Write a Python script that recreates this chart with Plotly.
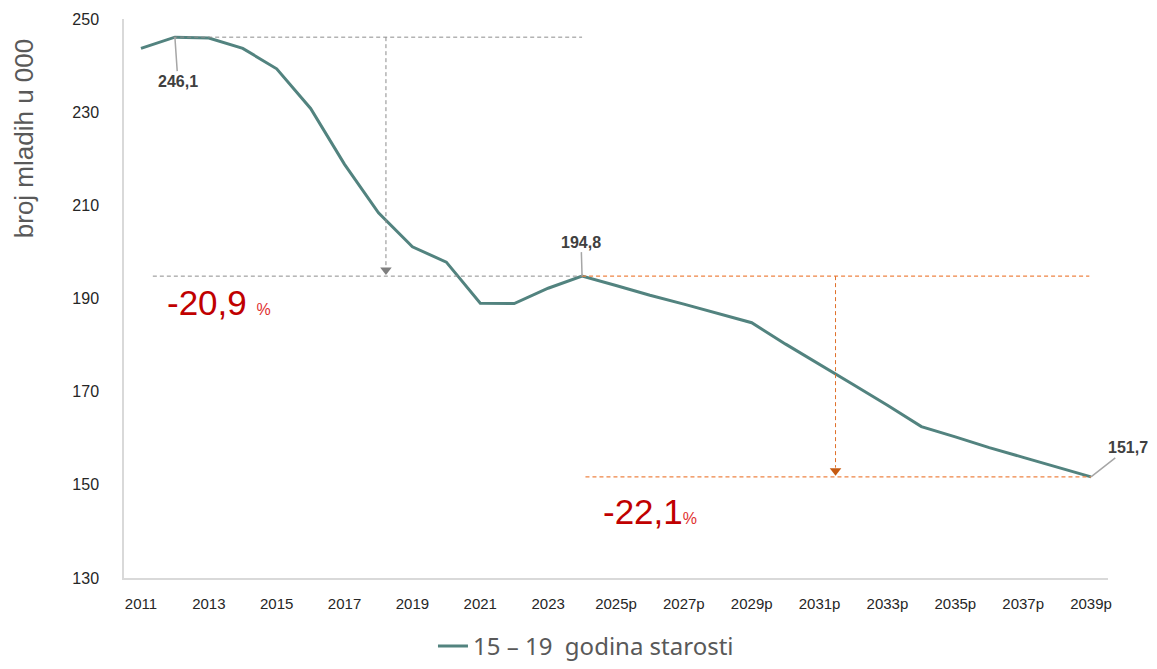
import plotly.graph_objects as go

categories = ["2011", "2012", "2013", "2014", "2015", "2016", "2017", "2018", "2019", "2020",
              "2021", "2022", "2023", "2024", "2025p", "2026p", "2027p", "2028p", "2029p", "2030p",
              "2031p", "2032p", "2033p", "2034p", "2035p", "2036p", "2037p", "2038p", "2039p"]
values = [243.7, 246.1, 245.9, 243.7, 239.3, 230.8, 218.8, 208.4, 201.1, 197.8,
          189.0, 188.9, 192.2, 194.8, 192.8, 190.7, 188.8, 186.8, 184.8, 180.2,
          175.9, 171.5, 167.1, 162.5, 160.3, 158.0, 155.9, 153.8, 151.7]
tick_labels = categories[::2]
y_ticks = [130, 150, 170, 190, 210, 230, 250]
series_name = "15 – 19\u00a0 godina starosti"
y_title = "broj mladih u 000"
pct_1 = "-20,9"
pct_2 = "-22,1"

i_max = 1
i_mid = categories.index("2024")
i_end = len(categories) - 1
v_max, v_mid, v_end = values[i_max], values[i_mid], values[i_end]

TEAL = "#52837F"
GRAY_D = "#8C8C8C"
ORANGE = "#EE8444"
ORANGE_D = "#C55A11"
RED = "#C00000"
DASH = "4px,3px"

fig = go.Figure()
fig.add_trace(go.Scatter(x=list(range(len(categories))), y=values, mode="lines",
                         line=dict(color=TEAL, width=3), name=series_name))

# arrowheads
fig.add_trace(go.Scatter(x=[7.22], y=[v_mid + 1.3], mode="markers", showlegend=False,
                         marker=dict(symbol="triangle-down", size=10, color="#7F7F7F"),
                         hoverinfo="skip"))
fig.add_trace(go.Scatter(x=[20.47], y=[v_end + 1.3], mode="markers", showlegend=False,
                         marker=dict(symbol="triangle-down", size=10, color=ORANGE_D),
                         hoverinfo="skip"))

shapes = [
    dict(type="line", xref="x", yref="y", x0=i_max - 0.05, x1=i_mid, y0=v_max, y1=v_max,
         line=dict(color=GRAY_D, width=1, dash=DASH)),
    dict(type="line", xref="x", yref="y", x0=0.35, x1=i_mid, y0=v_mid, y1=v_mid,
         line=dict(color=GRAY_D, width=1, dash=DASH)),
    dict(type="line", xref="x", yref="y", x0=7.22, x1=7.22, y0=v_max, y1=v_mid + 2,
         line=dict(color=GRAY_D, width=1, dash=DASH)),
    dict(type="line", xref="x", yref="y", x0=i_mid, x1=27.95, y0=v_mid, y1=v_mid,
         line=dict(color=ORANGE, width=1.2, dash=DASH)),
    dict(type="line", xref="x", yref="y", x0=13.1, x1=i_end, y0=v_end, y1=v_end,
         line=dict(color=ORANGE, width=1.2, dash=DASH)),
    dict(type="line", xref="x", yref="y", x0=20.47, x1=20.47, y0=v_mid, y1=v_end + 2,
         line=dict(color="#E0702A", width=1, dash=DASH)),
]

lbl_font = dict(family="Liberation Sans, Arial", size=16, color="#404040")
lead = dict(showarrow=True, arrowhead=0, arrowwidth=1.5, arrowcolor="#A6A6A6")
annotations = [
    dict(x=i_max, y=v_max, xref="x", yref="y", ax=3, ay=44, text="<b>246,1</b>",
         font=lbl_font, **lead),
    dict(x=i_mid, y=v_mid, xref="x", yref="y", ax=-1, ay=-34, text="<b>194,8</b>",
         font=lbl_font, **lead),
    dict(x=i_end, y=v_end, xref="x", yref="y", ax=37, ay=-29, text="<b>151,7</b>",
         font=lbl_font, **lead),
    dict(x=0.7, y=v_mid - 5.6, xref="x", yref="y", xanchor="left",
         text=pct_1 + " <span style='font-size:16px;color:#E03030'>%</span>", showarrow=False,
         font=dict(family="Liberation Sans, Arial", size=35, color=RED)),
    dict(x=13.55, y=v_end - 7.5, xref="x", yref="y", xanchor="left",
         text=pct_2 + "<span style='font-size:16px;color:#E03030'>%</span>", showarrow=False,
         font=dict(family="Liberation Sans, Arial", size=35, color=RED)),
    dict(x=-0.1016, y=0.785, xref="paper", yref="paper", xanchor="center", yanchor="middle",
         text=y_title, textangle=-90, showarrow=False,
         font=dict(family="Liberation Sans, Arial", size=26, color="#595959")),
]

fig.update_layout(
    width=1157, height=669,
    margin=dict(l=124, r=49, t=19, b=91, autoexpand=False),
    paper_bgcolor="white", plot_bgcolor="white",
    shapes=shapes, annotations=annotations,
    showlegend=True,
    legend=dict(orientation="h", x=0.314, xanchor="left", y=-0.1625, yanchor="bottom",
                font=dict(family="Noto Sans, Open Sans", size=24, color="#595959"),
                itemwidth=30, bgcolor="rgba(0,0,0,0)"),
    xaxis=dict(range=[-0.5, len(categories) - 0.5], tickmode="array",
               tickvals=list(range(0, len(categories), 2)), ticktext=tick_labels,
               showgrid=False, zeroline=False, showline=True, linecolor="#D9D9D9", linewidth=1.5,
               ticks="", ticklabelstandoff=11,
               tickfont=dict(family="Liberation Sans, Arial", size=15, color="#262626")),
    yaxis=dict(range=[130, 250], tickmode="array", tickvals=y_ticks,
               showgrid=False, zeroline=False, showline=True, linecolor="#D9D9D9", linewidth=1.5,
               ticks="", ticklabelstandoff=20,
               tickfont=dict(family="Liberation Sans, Arial", size=16, color="#262626")),
)

fig.write_html("out.html")
